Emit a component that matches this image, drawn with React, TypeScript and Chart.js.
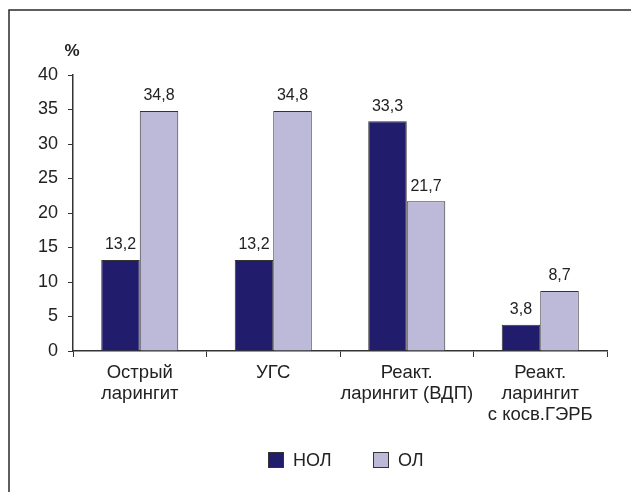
import React, { useEffect, useRef } from "react";
import { Chart, registerables } from "chart.js";

Chart.register(...registerables);

const categories: string[][] = [
  ["Острый", "ларингит"],
  ["УГС"],
  ["Реакт.", "ларингит (ВДП)"],
  ["Реакт.", "ларингит", "с косв.ГЭРБ"],
];
const seriesNames = ["НОЛ", "ОЛ"];
const nolValues = [13.2, 13.2, 33.3, 3.8];
const olValues = [34.8, 34.8, 21.7, 8.7];
const yTicks = [0, 5, 10, 15, 20, 25, 30, 35, 40];

const NAVY = "#211d6c";
const LILAC = "#bcb9d9";
const FONT = "'Liberation Sans', Arial, sans-serif";

const framePlugin = {
  id: "frame",
  beforeDraw(chart: any) {
    const ctx = chart.ctx;
    ctx.save();
    ctx.fillStyle = "#ffffff";
    ctx.fillRect(0, 0, chart.width, chart.height);
    ctx.strokeStyle = "#2a2a2a";
    ctx.lineWidth = 1.5;
    ctx.beginPath();
    ctx.moveTo(9, chart.height + 5);
    ctx.lineTo(9, 10);
    ctx.lineTo(chart.width + 5, 10);
    ctx.stroke();
    ctx.restore();
  },
};

const labelsPlugin = {
  id: "valueLabels",
  afterDatasetsDraw(chart: any) {
    const ctx = chart.ctx;
    ctx.save();
    ctx.font = `16px ${FONT}`;
    ctx.fillStyle = "#222";
    ctx.textAlign = "center";
    ctx.textBaseline = "bottom";
    chart.data.datasets.forEach((ds: any, i: number) => {
      const meta = chart.getDatasetMeta(i);
      meta.data.forEach((el: any, j: number) => {
        const v = ds.data[j];
        ctx.fillText(String(v).replace(".", ","), el.x, el.y - 7);
      });
    });
    // y axis unit
    ctx.font = `bold 17px ${FONT}`;
    ctx.textAlign = "center";
    ctx.textBaseline = "middle";
    ctx.fillText("%", 72, 51);
    ctx.restore();
  },
};

const legendPlugin = {
  id: "customLegend",
  afterDraw(chart: any) {
    const ctx = chart.ctx;
    ctx.save();
    ctx.font = `18px ${FONT}`;
    ctx.textBaseline = "middle";
    ctx.textAlign = "left";
    const cy = 460;
    const starts = [268, 373];
    chart.data.datasets.forEach((ds: any, i: number) => {
      const x = starts[i];
      ctx.fillStyle = ds.backgroundColor;
      ctx.fillRect(x, cy - 8, 16, 16);
      ctx.strokeStyle = "#333";
      ctx.lineWidth = 1;
      ctx.strokeRect(x + 0.5, cy - 7.5, 15, 15);
      ctx.fillStyle = "#222";
      ctx.fillText(ds.label, x + 25, cy + 1);
    });
    ctx.restore();
  },
};

export default function App() {
  const ref = useRef<HTMLCanvasElement | null>(null);

  useEffect(() => {
    if (!ref.current) return;
    const chart = new Chart(ref.current, {
      type: "bar",
      data: {
        labels: categories,
        datasets: [
          {
            label: seriesNames[0],
            data: nolValues,
            backgroundColor: NAVY,
            borderColor: "#333",
            borderWidth: 1,
            categoryPercentage: 0.577,
            barPercentage: 1,
          },
          {
            label: seriesNames[1],
            data: olValues,
            backgroundColor: LILAC,
            borderColor: "#333",
            borderWidth: 1,
            categoryPercentage: 0.577,
            barPercentage: 1,
          },
        ],
      },
      options: {
        animation: false,
        responsive: false,
        devicePixelRatio: 1,
        layout: { padding: { left: 0, right: 24, top: 75, bottom: 61 } },
        plugins: {
          legend: { display: false },
          tooltip: { enabled: false },
        },
        scales: {
          x: {
            grid: {
              display: true,
              drawOnChartArea: false,
              drawTicks: true,
              tickLength: 6,
              color: "#333",
              offset: true,
            },
            border: { display: true, color: "#333", width: 1.5 },
            ticks: {
              color: "#222",
              font: { family: FONT, size: 18.5, lineHeight: 1.12 },
              padding: 6,
              maxRotation: 0,
              autoSkip: false,
            },
            afterFit(scale: any) {
              scale.height = 80;
            },
          },
          y: {
            min: 0,
            max: 40,
            afterBuildTicks(scale: any) {
              scale.ticks = yTicks.map((v) => ({ value: v }));
            },
            grid: {
              display: true,
              drawOnChartArea: false,
              drawTicks: true,
              tickLength: 5,
              color: "#333",
            },
            border: { display: true, color: "#333", width: 1.5 },
            ticks: {
              color: "#222",
              font: { family: FONT, size: 18 },
              padding: 10,
            },
            afterFit(scale: any) {
              scale.width = 73;
            },
          },
        },
      },
      plugins: [framePlugin, labelsPlugin, legendPlugin],
    });
    return () => chart.destroy();
  }, []);

  return (
    <div style={{ position: "fixed", left: 0, top: 0, width: 631, height: 492, overflow: "hidden", background: "#fff" }}>
      <canvas ref={ref} width={631} height={492} style={{ display: "block" }} />
    </div>
  );
}
